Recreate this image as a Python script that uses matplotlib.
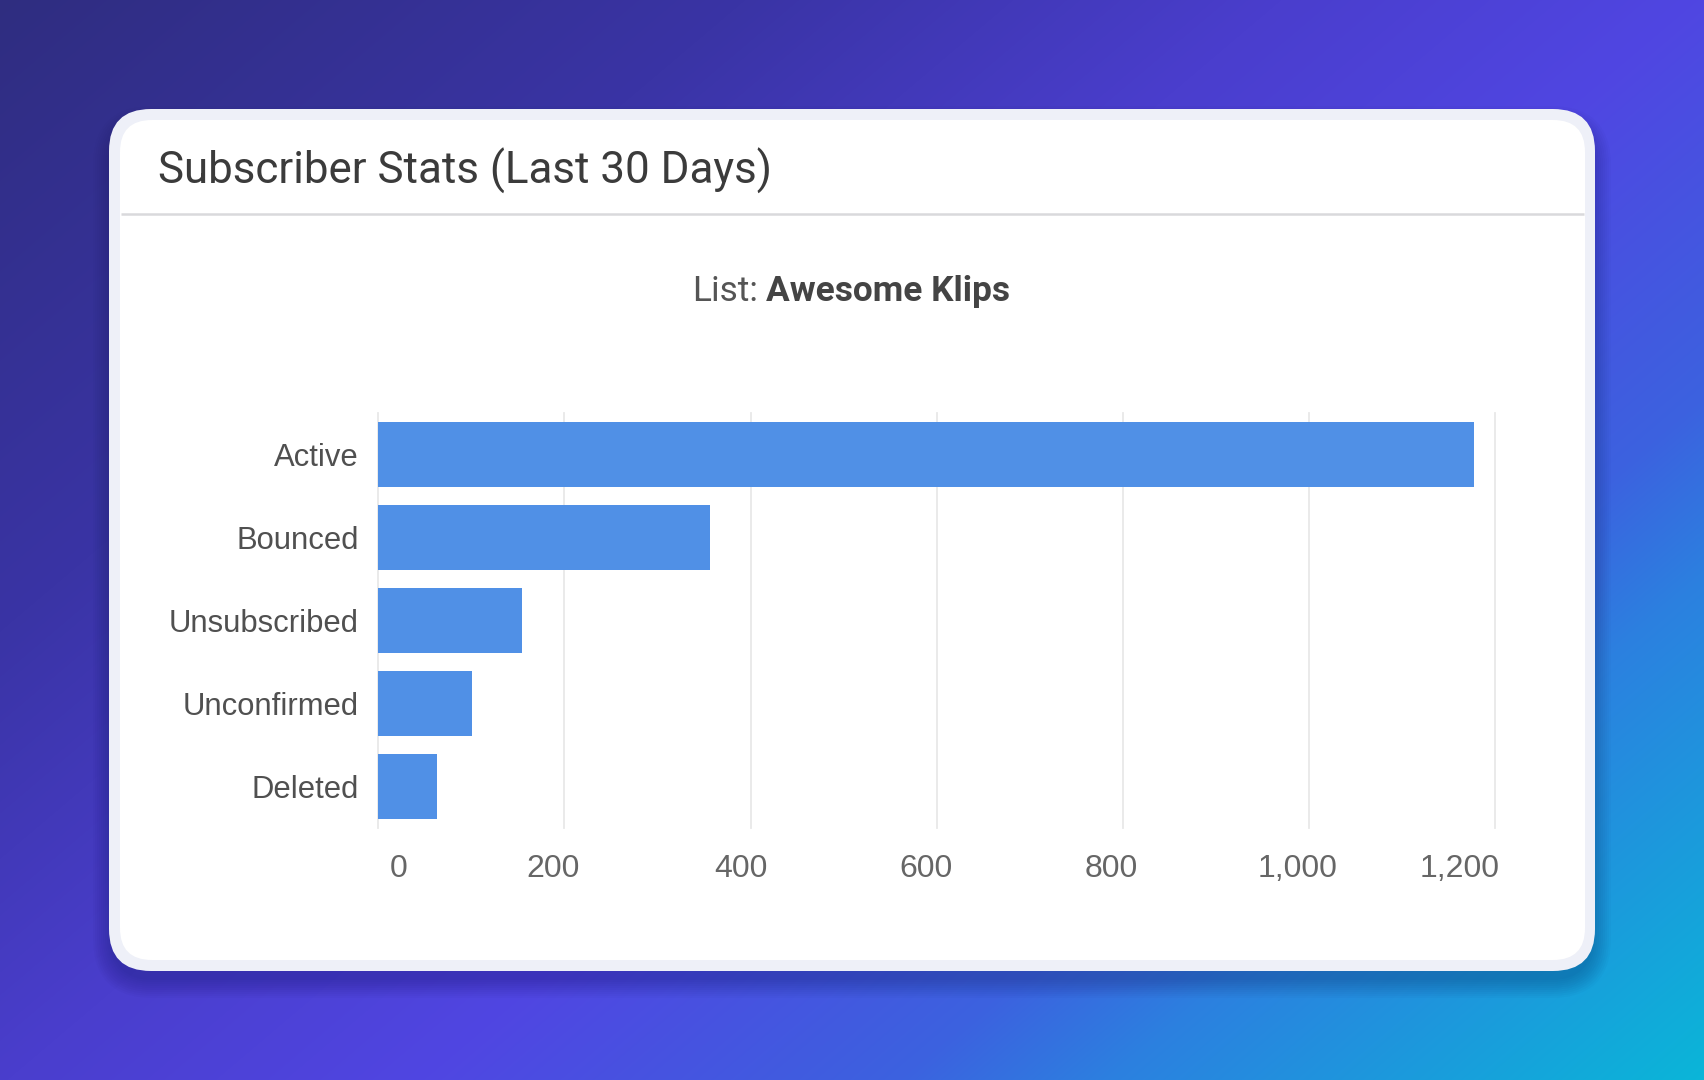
import numpy as np
import matplotlib
matplotlib.use("Agg")
import matplotlib.pyplot as plt
from matplotlib.patches import FancyBboxPatch
from matplotlib.transforms import ScaledTranslation

# chart data
categories = ["Active", "Bounced", "Unsubscribed", "Unconfirmed", "Deleted"]
values = [1177, 356, 155, 101, 63]
x_ticks = [0, 200, 400, 600, 800, 1000, 1200]
x_labels = ["0", "200", "400", "600", "800", "1,000", "1,200"]
title = "Subscriber Stats (Last 30 Days)"
list_prefix = "List:"
list_name = "Awesome Klips"

W, H = 1704, 1080
fig = plt.figure(figsize=(W / 100, H / 100), dpi=100)

# background gradient (pixel space, y down)
bg = fig.add_axes([0, 0, 1, 1])
bg.set_xlim(0, W)
bg.set_ylim(H, 0)
bg.axis("off")
yy, xx = np.mgrid[0:H, 0:W]
t = (xx * 1080 + yy * 1274) / (W * 1080 + H * 1274)
stops = [0.0, 0.25, 0.43, 0.57, 0.73, 0.80, 1.0]
cols = np.array([(47, 45, 128), (58, 52, 165), (74, 62, 205), (80, 70, 226),
                 (60, 98, 223), (44, 128, 224), (10, 182, 216)]) / 255.0
img = np.dstack([np.interp(t, stops, cols[:, i]) for i in range(3)])
bg.imshow(img, extent=(0, W, H, 0), aspect="auto", zorder=0)

# card shadow, mostly below the card
for i in range(10):
    g = i * 2
    bg.add_patch(FancyBboxPatch((111 - g, 124 - g), 1482 + 2 * g, 856 + 2 * g,
                                boxstyle="round,pad=0,rounding_size=%d" % (42 + g),
                                fc="#0a0a40", ec="none", alpha=0.025, zorder=1))

# card: light rim + white body
bg.add_patch(FancyBboxPatch((109, 109), 1486, 862,
                            boxstyle="round,pad=0,rounding_size=42",
                            fc="#eef0f8", ec="none", zorder=2))
bg.add_patch(FancyBboxPatch((120, 120), 1465, 840,
                            boxstyle="round,pad=0,rounding_size=32",
                            fc="#ffffff", ec="none", zorder=3))
bg.plot([121, 1584], [214, 214], color="#d9d9dc", lw=1.8, zorder=4,
        solid_capstyle="butt")

renderer = fig.canvas.get_renderer()


def fit_width(txt, target):
    w = txt.get_window_extent(renderer).width
    txt.set_fontsize(txt.get_fontsize() * target / w)


head_font = ["Liberation Sans Narrow", "Roboto", "DejaVu Sans"]
ttl = bg.text(158, 184, title, fontsize=30, color="#3b3b3b", family=head_font,
              ha="left", va="baseline", zorder=5)
fit_width(ttl, 612)

sub2 = bg.text(766, 301, list_name, fontsize=24, fontweight="bold", color="#444444",
               family=head_font, ha="left", va="baseline", zorder=5)
fit_width(sub2, 244)
sub1 = bg.text(692, 301, list_prefix, fontsize=sub2.get_fontsize(), color="#555555",
               family=head_font, ha="left", va="baseline", zorder=5)

# bar chart
ax = fig.add_axes([378.2 / W, 1 - 828 / H, 1117.1 / W, 415 / H])
ax.set_facecolor("none")
y = np.arange(len(categories))
ax.barh(y, values, height=0.78, color="#5090e6", zorder=3)
ax.set_ylim(len(categories) - 0.5, -0.5)
ax.set_xlim(0, 1200)
ax.set_yticks(y, categories)
ax.set_xticks(x_ticks)
ax.set_xticklabels(x_labels)
for s in ax.spines.values():
    s.set_visible(False)
ax.grid(axis="x", color="#e8e8e8", lw=1.3, zorder=0)
ax.grid(axis="y", visible=False)
for ln in ax.get_xgridlines():
    ln.set_clip_on(False)
ax.tick_params(axis="y", length=0, pad=14, labelsize=22.3, labelcolor="#505050")
ax.tick_params(axis="x", length=0, pad=19, labelsize=23, labelcolor="#666666")
for lab in ax.get_yticklabels():
    lab.set_family(["Liberation Sans", "DejaVu Sans"])
for lab in ax.get_xticklabels():
    lab.set_family(["Liberation Sans", "DejaVu Sans"])

# shift x labels like the original renderer does
shifts = [20, -11, -10, -11, -12, -12, -36]
for tick, dx in zip(ax.xaxis.get_major_ticks(), shifts):
    tick.label1.set_transform(tick.label1.get_transform() +
                              ScaledTranslation(dx / 100, 0, fig.dpi_scale_trans))

fig.savefig("out.png", dpi=100)
